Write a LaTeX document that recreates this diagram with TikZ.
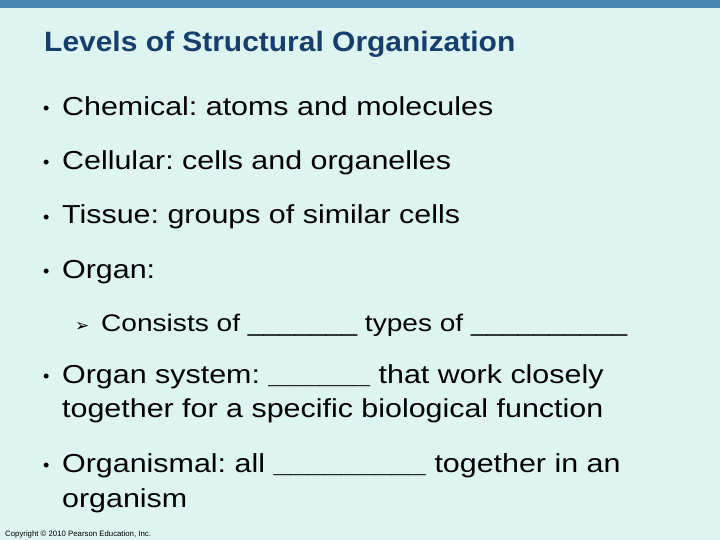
\documentclass[tikz,border=0pt]{standalone}
\usepackage{fontspec}
\setmainfont{Liberation Sans}
\newfontfamily\djv{DejaVu Sans}
\frenchspacing
\definecolor{bgc}{HTML}{DEF4F1}
\definecolor{barc}{HTML}{4A86B2}
\definecolor{titc}{HTML}{173F6E}
\newcommand{\widetxt}[1]{\scalebox{1.17}[1]{#1}}
\begin{document}
\begin{tikzpicture}[x=1pt,y=-1pt,
  txt/.style={anchor=base west,inner sep=0pt,font=\fontsize{26}{30}\selectfont},
  sub/.style={anchor=base west,inner sep=0pt,font=\fontsize{24}{28}\selectfont},
  bul/.style={anchor=base west,inner sep=0pt,font=\fontsize{18}{20}\selectfont}]
\fill[bgc] (0,0) rectangle (720,540);
\useasboundingbox (0,0) rectangle (720,540);
\fill[barc] (0,0) rectangle (720,8);
\node[anchor=base west,inner sep=0pt,text=titc,font=\fontsize{28}{32}\selectfont\bfseries] (title) at (44,52) {\scalebox{1.07}[1]{Levels of Structural Organization}};
\foreach \n/\y/\t in {a/116/{Chemical: atoms and molecules},b/170/{Cellular: cells and organelles},c/224/{Tissue: groups of similar cells},d/278/{Organ:},e/383/{Organ system: \textbf{\_\_\_\_\_\_} that work closely},f/472/{Organismal: all \textbf{\_\_\_\_\_\_\_\_\_} together in an}}{
  \node[bul] (b\n) at (43,\y-1) {•};
  \node[txt] (t\n) at (62,\y) {\widetxt{\t}};
}
\node[txt] (e2) at (62,417) {\widetxt{together for a specific biological function}};
\node[txt] (f2) at (62,507) {\widetxt{organism}};
\node[anchor=base west,inner sep=0pt,font=\djv\fontsize{17}{18}\selectfont] (arr) at (75,331) {➢};
\node[sub] (cons) at (101,331) {\widetxt{Consists of \_\_\_\_\_\_\_ types of \_\_\_\_\_\_\_\_\_\_}};
\node[anchor=base west,inner sep=0pt,font=\fontsize{7.8}{9}\selectfont] (copy) at (5,536) {Copyright © 2010 Pearson Education, Inc.};
\end{tikzpicture}
\end{document}
